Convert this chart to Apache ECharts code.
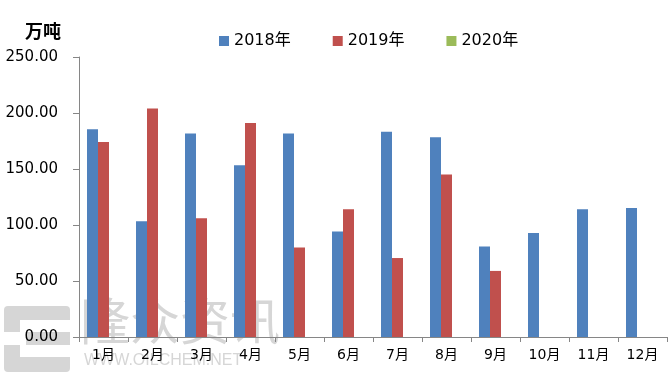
<!DOCTYPE html>
<html>
<head>
<meta charset="utf-8">
<script src="https://cdn.jsdelivr.net/npm/echarts@6/dist/echarts.min.js"></script>
<style>html,body{margin:0;padding:0;background:#fff;}#c{width:670px;height:380px;}</style>
</head>
<body>
<div id="c"></div>
<script>
const categories = ['1月','2月','3月','4月','5月','6月','7月','8月','9月','10月','11月','12月'];
const seriesNames = ['2018年','2019年','2020年'];
const values2018 = [185.5, 103.3, 181.8, 153.3, 181.8, 94.3, 183.3, 178.3, 80.8, 92.9, 114.0, 115.2];
const values2019 = [174.0, 204.0, 106.0, 191.0, 80.0, 114.0, 70.5, 145.0, 59.0, null, null, null];
const values2020 = [null, null, null, null, null, null, null, null, null, null, null, null];
const yTicks = [0, 50, 100, 150, 200, 250];
const unitLabel = '万吨';
const colors = ['#4F81BD', '#C0504D', '#9BBB59'];

const chart = echarts.init(document.getElementById('c'));
const font = '"DejaVu Sans", "Noto Sans CJK SC", sans-serif';
chart.setOption({
  animation: false,
  color: colors,
  textStyle: {fontFamily: font},
  grid: {left: 79, right: 3, top: 57, bottom: 43, containLabel: false},
  legend: {
    data: seriesNames,
    left: 214, top: 28,
    itemWidth: 10, itemHeight: 10, itemGap: 42,
    icon: 'rect',
    textStyle: {fontSize: 16, color: '#000', fontFamily: font, padding: [0,0,0,0]}
  },
  graphic: [
    {type: 'group', z: -10, silent: true, children: [
      {type: 'rect', shape: {x: 4, y: 306, width: 66, height: 66, r: 4}, style: {fill: '#d6d6d6'}},
      {type: 'rect', shape: {x: 20, y: 320, width: 50, height: 12}, style: {fill: '#ffffff'}},
      {type: 'rect', shape: {x: 20, y: 345, width: 50, height: 12}, style: {fill: '#ffffff'}},
      {type: 'rect', shape: {x: 4, y: 332, width: 22, height: 13}, style: {fill: '#ffffff'}},
      {type: 'text', x: 80, y: 296, style: {text: '隆众资讯', fontSize: 50, fill: '#d6d6d6', fontFamily: '"Noto Sans CJK SC", sans-serif'}},
      {type: 'text', x: 84, y: 353, style: {text: 'WWW.OILCHEM.NET', fontSize: 16, fill: '#d6d6d6', fontFamily: '"Liberation Sans", sans-serif'}}
    ]},
    {type: 'text', x: 25, y: 22, style: {text: unitLabel, fontSize: 18, fontWeight: 'bold', fill: '#000', fontFamily: '"Noto Sans CJK SC", sans-serif'}}
  ],
  xAxis: {
    type: 'category',
    data: categories,
    axisLine: {lineStyle: {color: '#868686', width: 1}},
    axisTick: {show: true, length: 5, lineStyle: {color: '#868686'}},
    axisLabel: {color: '#000', fontSize: 14, margin: 11, fontFamily: font}
  },
  yAxis: {
    type: 'value',
    min: yTicks[0], max: yTicks[yTicks.length - 1], interval: 50,
    axisLine: {show: true, lineStyle: {color: '#868686', width: 1}},
    axisTick: {show: true, length: 6, lineStyle: {color: '#868686'}},
    splitLine: {show: false},
    axisLabel: {color: '#000', fontSize: 15, margin: 21, fontFamily: font, formatter: v => v.toFixed(2)}
  },
  series: [
    {name: seriesNames[0], type: 'bar', data: values2018, barWidth: 11, barGap: '0%'},
    {name: seriesNames[1], type: 'bar', data: values2019, barWidth: 11, barGap: '0%'},
    {name: seriesNames[2], type: 'bar', data: values2020, barWidth: 11, barGap: '0%'}
  ]
});
</script>
</body>
</html>
